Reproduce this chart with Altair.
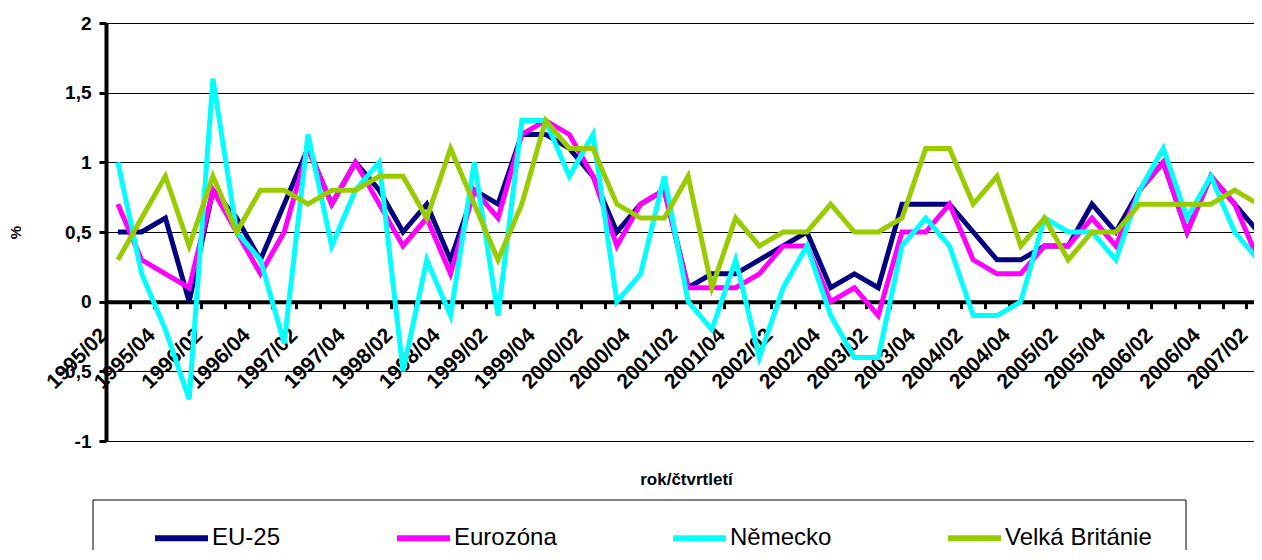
import json
import altair as alt
import pandas as pd

periods = [
    "1995/02", "1995/03", "1995/04",
    "1996/01", "1996/02", "1996/03", "1996/04",
    "1997/01", "1997/02", "1997/03", "1997/04",
    "1998/01", "1998/02", "1998/03", "1998/04",
    "1999/01", "1999/02", "1999/03", "1999/04",
    "2000/01", "2000/02", "2000/03", "2000/04",
    "2001/01", "2001/02", "2001/03", "2001/04",
    "2002/01", "2002/02", "2002/03", "2002/04",
    "2003/01", "2003/02", "2003/03", "2003/04",
    "2004/01", "2004/02", "2004/03", "2004/04",
    "2005/01", "2005/02", "2005/03", "2005/04",
    "2006/01", "2006/02", "2006/03", "2006/04",
    "2007/01", "2007/02",
]

series_names = ["EU-25", "Eurozóna", "Německo", "Velká Británie"]
series_colors = ["#000080", "#FF00FF", "#00FFFF", "#99CC00"]

eu25 = [0.5, 0.5, 0.6, 0.0, 0.8, 0.6, 0.3, 0.7, 1.1, 0.7,
        1.0, 0.8, 0.5, 0.7, 0.3, 0.8, 0.7, 1.2, 1.2, 1.1,
        0.9, 0.5, 0.7, 0.8, 0.1, 0.2, 0.2, 0.3, 0.4, 0.5,
        0.1, 0.2, 0.1, 0.7, 0.7, 0.7, 0.5, 0.3, 0.3, 0.4,
        0.4, 0.7, 0.5, 0.8, 1.0, 0.5, 0.9, 0.7, 0.5]
eurozona = [0.7, 0.3, 0.2, 0.1, 0.8, 0.5, 0.2, 0.5, 1.1, 0.7,
            1.0, 0.7, 0.4, 0.6, 0.2, 0.8, 0.6, 1.2, 1.3, 1.2,
            0.9, 0.4, 0.7, 0.8, 0.1, 0.1, 0.1, 0.2, 0.4, 0.4,
            0.0, 0.1, -0.1, 0.5, 0.5, 0.7, 0.3, 0.2, 0.2, 0.4,
            0.4, 0.6, 0.4, 0.8, 1.0, 0.5, 0.9, 0.7, 0.3]
nemecko = [1.0, 0.2, -0.2, -0.7, 1.6, 0.5, 0.3, -0.3, 1.2, 0.4,
           0.8, 1.0, -0.5, 0.3, -0.1, 1.0, -0.1, 1.3, 1.3, 0.9,
           1.2, 0.0, 0.2, 0.9, 0.0, -0.2, 0.3, -0.4, 0.1, 0.4,
           -0.1, -0.4, -0.4, 0.4, 0.6, 0.4, -0.1, -0.1, 0.0, 0.6,
           0.5, 0.5, 0.3, 0.8, 1.1, 0.6, 0.9, 0.5, 0.3]
velka_britanie = [0.3, 0.6, 0.9, 0.4, 0.9, 0.5, 0.8, 0.8, 0.7, 0.8,
                  0.8, 0.9, 0.9, 0.6, 1.1, 0.7, 0.3, 0.7, 1.3, 1.1,
                  1.1, 0.7, 0.6, 0.6, 0.9, 0.1, 0.6, 0.4, 0.5, 0.5,
                  0.7, 0.5, 0.5, 0.6, 1.1, 1.1, 0.7, 0.9, 0.4, 0.6,
                  0.3, 0.5, 0.5, 0.7, 0.7, 0.7, 0.7, 0.8, 0.7]

y_ticks = [-1, -0.5, 0, 0.5, 1, 1.5, 2]

rows = []
for name, vals in zip(series_names, [eu25, eurozona, nemecko, velka_britanie]):
    for i, (p, v) in enumerate(zip(periods, vals)):
        rows.append({"idx": i, "period": p, "series": name, "value": v})
df = pd.DataFrame(rows)

FONT = "Liberation Sans"
n = len(periods)
H = 418
W = 1148
STEP = 23.76
x_values = [i - 0.5 for i in range(n + 1)] + [i for i in range(0, n, 2)]
label_expr = ("(datum.value % 2 == 0) ? " + json.dumps(periods, ensure_ascii=False)
              + "[datum.value] : ''")

x_axis = alt.Axis(
    values=x_values,
    labelExpr=label_expr,
    labelAngle=315,
    labelAlign="right",
    labelBaseline="middle",
    labelFont=FONT,
    labelFontSize=21,
    labelFontWeight="bold",
    labelColor="black",
    labelPadding=23,
    labelOffset=-14,
    labelOverlap=False,
    labelFlush=False,
    tickOpacity={"condition": {"test": "datum.value % 1 != 0", "value": 1}, "value": 0},
    tickSize=7,
    tickWidth=3,
    tickColor="black",
    domainWidth=4,
    domainColor="black",
    grid=False,
    offset=-H / 3,
    titleFont=FONT,
    titleFontSize=17,
    titleFontWeight="bold",
    titleColor="black",
    titleX=580,
    titleY=178,
    titleBaseline="middle",
    titleAlign="center",
)

y_axis = alt.Axis(
    values=y_ticks,
    labelExpr="replace(toString(datum.value), '.', ',')",
    labelFont=FONT,
    labelFontSize=19,
    labelFontWeight="bold",
    labelColor="black",
    labelPadding=8,
    tickSize=7,
    tickWidth=3,
    tickColor="black",
    domainWidth=4,
    domainColor="black",
    grid=True,
    gridColor="black",
    gridWidth=1,
    titleFont=FONT,
    titleFontSize=15,
    titleFontWeight="bold",
    titleColor="black",
    titleAngle=270,
    titleX=-91,
    titleY=209,
    titleBaseline="middle",
    titleAlign="center",
)

legend = alt.Legend(
    orient="none",
    legendX=46,
    legendY=485.5,
    direction="horizontal",
    columns=4,
    title=None,
    symbolType="stroke",
    symbolSize=2809,
    symbolStrokeWidth=6,
    labelFont=FONT,
    labelFontSize=24,
    labelColor="black",
    labelOffset=1,
    columnPadding=104,
    padding=0,
    labelLimit=400,
)

lines = alt.Chart(df).mark_line(strokeWidth=5, clip=True).encode(
    x=alt.X("idx:Q",
            scale=alt.Scale(domain=[-0.5, n - 0.5], range=[0, n * STEP],
                            nice=False, zero=False),
            axis=x_axis, title="rok/čtvrtletí"),
    y=alt.Y("value:Q", scale=alt.Scale(domain=[-1, 2], nice=False, zero=False),
            axis=y_axis, title="%"),
    color=alt.Color("series:N", sort=series_names,
                    scale=alt.Scale(domain=series_names, range=series_colors),
                    legend=legend),
)

box = alt.Chart(pd.DataFrame({"k": [0]})).mark_rect(
    fill="white", fillOpacity=0, stroke="black", strokeWidth=1
).encode(
    x=alt.value(-13), x2=alt.value(1080), y=alt.value(477), y2=alt.value(600)
)

chart = alt.layer(box, lines).properties(
    width=W,
    height=H,
    autosize=alt.AutoSizeParams(type="none"),
    padding={"left": 98, "top": 15, "right": 0, "bottom": 109},
    background="white",
).configure_view(stroke=None)

chart.save("out.html", embed_options={"renderer": "svg", "actions": False})
